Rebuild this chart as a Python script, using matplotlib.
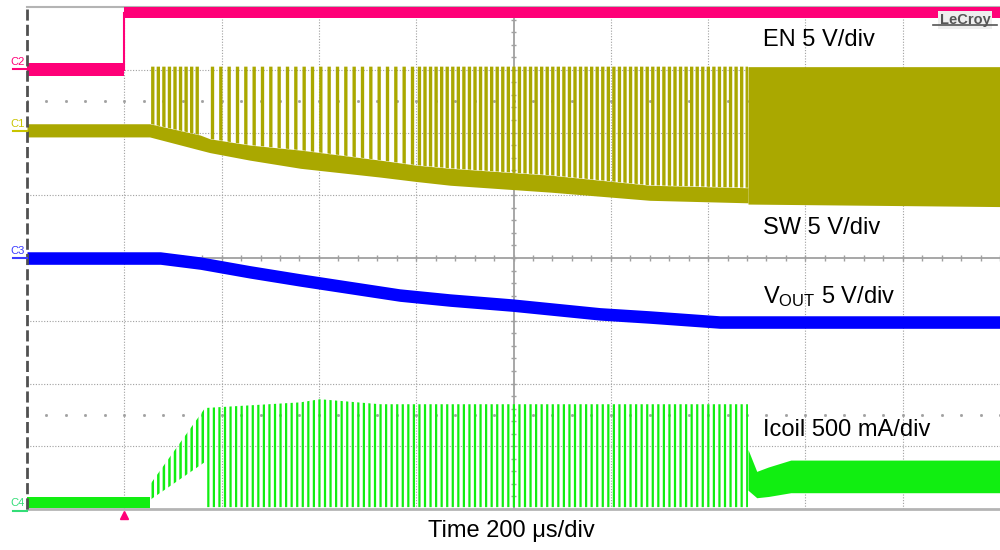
import matplotlib
matplotlib.use("Agg")
import matplotlib.pyplot as plt
import numpy as np

plt.rcParams['font.family'] = ['Liberation Sans', 'DejaVu Sans']
plt.rcParams['mathtext.fontset'] = 'custom'
plt.rcParams['mathtext.rm'] = 'Liberation Sans'
plt.rcParams['mathtext.it'] = 'Liberation Sans'
plt.rcParams['hatch.linewidth'] = 2.0

# ---- data (screen units: x in divisions of 200 us, y in vertical divisions) ----
# EN (C2)
en_time = [0.0, 1.0, 1.0, 10.0]
en_lower = [2.90, 2.90, 3.83, 3.83]
en_upper = [3.11, 3.11, 4.02, 4.02]

# SW (C1): band between pulses, and pulse tops
sw_time = [0.0, 1.26, 1.78, 1.88, 2.29, 2.81, 3.63, 4.00, 4.35, 5.38, 6.40, 7.41]
sw_lower = [1.93, 1.93, 1.72, 1.68, 1.56, 1.43, 1.29, 1.22, 1.16, 1.05, 0.92, 0.88]
sw_upper = [2.14, 2.14, 1.96, 1.90, 1.80, 1.72, 1.56, 1.48, 1.43, 1.32, 1.16, 1.12]
sw_pulse_top = [2.14, 3.05, 3.05, 3.05, 3.05, 3.05, 3.05, 3.05, 3.05, 3.05, 3.05, 3.05]
sw_burst_start = [1.26, 1.88, 4.00]
sw_burst_end = [1.78, 4.00, 7.41]
sw_dense_time = [7.41, 10.0]
sw_dense_lower = [0.86, 0.82]
sw_dense_upper = [3.05, 3.05]

# VOUT (C3)
vout_time = [0.0, 1.37, 1.78, 2.29, 2.81, 3.83, 4.35, 4.99, 5.89, 6.40, 7.12, 10.0]
vout_upper = [0.10, 0.10, 0.02, -0.12, -0.25, -0.49, -0.57, -0.65, -0.79, -0.84, -0.92, -0.92]
vout_lower = [-0.10, -0.10, -0.18, -0.32, -0.45, -0.69, -0.77, -0.85, -0.99, -1.04, -1.12, -1.12]

# Icoil (C4)
il_idle_time = [0.0, 1.26]
il_idle_lower = [-3.99, -3.99]
il_idle_upper = [-3.81, -3.81]
il_ramp_time = [1.26, 1.83]
il_ramp_lower = [-3.86, -3.25]
il_ramp_upper = [-3.62, -2.39]
il_switch_time = [1.83, 2.81, 3.01, 3.63, 7.41]
il_switch_lower = [-3.97, -3.97, -3.97, -3.97, -3.97]
il_switch_upper = [-2.39, -2.30, -2.25, -2.33, -2.33]
il_steady_time = [7.41, 7.50, 7.62, 7.85, 10.0]
il_steady_lower = [-3.70, -3.82, -3.80, -3.74, -3.74]
il_steady_upper = [-3.05, -3.40, -3.33, -3.22, -3.22]

trigger_time = 1.0

labels = ["EN 5 V/div", "SW 5 V/div", r"V$_{\mathrm{OUT}}$ 5 V/div", "Icoil 500 mA/div"]
label_y = [3.47, 0.48, -0.62, -2.74]
channel_names = ["C2", "C1", "C3", "C4"]
channel_level = [3.01, 2.02, 0.0, -4.03]

C_EN = '#ff0078'
C_SW = '#aaa800'
C_VO = '#0000ff'
C_IL = '#11ee11'
label_colors = ['#ff0078', '#c8c400', '#3a3aff', '#33dd77']

fig = plt.figure(figsize=(10, 5.5), dpi=100)
ax = fig.add_axes([0.027, 0.0745, 0.973, 0.9127])
ax.set_xlim(0, 10)
ax.set_ylim(-4, 4)
ax.set_axis_off()

# ---- graticule ----
gcol = '#a0a0a0'
for gx in [1, 2, 3, 4, 6, 7, 8, 9]:
    ax.plot([gx, gx], [-4, 4], color=gcol, lw=0.8, ls=(0, (1, 1.5)), zorder=1)
for gy in [-3, -2, -1, 1, 2, 3]:
    ax.plot([0, 10], [gy, gy], color=gcol, lw=0.8, ls=(0, (1, 1.5)), zorder=1)
ax.plot([5, 5], [-4, 4], color=gcol, lw=1.3, zorder=1)
ax.plot([0, 10], [0, 0], color=gcol, lw=1.3, zorder=1)
tx = np.arange(0, 10.01, 0.2)
ax.vlines(tx, -0.05, 0.05, color=gcol, lw=1.0, zorder=1)
ty = np.arange(-4, 4.01, 0.2)
ax.hlines(ty, 4.97, 5.03, color=gcol, lw=1.0, zorder=1)
for ry in [2.5, -2.5]:
    ax.plot(tx, np.full_like(tx, ry), ls='none', marker='s', ms=1.0, color=gcol, zorder=1)
ax.plot([0, 0], [-4, 4], color='#505050', lw=2.0, ls=(0, (4, 1.5)), zorder=6, clip_on=False)
ax.plot([0, 10], [-4, -4], color='#b4b4b4', lw=2.0, zorder=1, clip_on=False)
ax.plot([0, 10], [4, 4], color='#b4b4b4', lw=1.5, zorder=1, clip_on=False)


def hatched(x, lo, hi, color, hatch, hlw, where=None, z=3):
    c = ax.fill_between(x, lo, hi, where=where, facecolor='none',
                        edgecolor=color, linewidth=0, hatch=hatch, zorder=z)
    if hasattr(c, 'set_hatch_linewidth'):
        c.set_hatch_linewidth(hlw)
    return c

# ---- LeCroy logo ----
ax.text(9.64, 3.80, "LeCroy", color='#555555', fontsize=10.5, fontweight='bold',
        ha='center', va='center', zorder=5, clip_on=False,
        bbox=dict(facecolor='#eeeeee', edgecolor='none', pad=1.5))
ax.plot([9.31, 9.97], [3.71, 3.71], color='#555555', lw=1.2, zorder=5)

# ---- EN ----
ax.fill_between(en_time, en_lower, en_upper, color=C_EN, lw=0, zorder=4)
ax.plot([trigger_time, trigger_time], [3.0, 3.9], color=C_EN, lw=1.5, zorder=4)

# ---- SW ----
ax.fill_between(sw_time, sw_lower, sw_upper, color=C_SW, lw=0, zorder=3)
t = np.array(sw_time)
for s, e, h in zip(sw_burst_start, sw_burst_end, ['|||', '||', '|||']):
    hatched(sw_time, sw_upper, sw_pulse_top, C_SW, h, 2.4, where=(t >= s) & (t <= e))
ax.fill_between(sw_dense_time, sw_dense_lower, sw_dense_upper, color=C_SW, lw=0, zorder=3)

# ---- VOUT ----
ax.fill_between(vout_time, vout_lower, vout_upper, color=C_VO, lw=0, zorder=3)

# ---- Icoil ----
ax.fill_between(il_idle_time, il_idle_lower, il_idle_upper, color=C_IL, lw=0, zorder=3)
hatched(il_ramp_time, il_ramp_lower, il_ramp_upper, C_IL, '|||', 1.8)
hatched(il_switch_time, il_switch_lower, il_switch_upper, C_IL, '|||', 1.6)
ax.fill_between(il_steady_time, il_steady_lower, il_steady_upper, color=C_IL, lw=0, zorder=3)

# ---- channel markers ----
for name, lvl, col in zip(channel_names, channel_level, label_colors):
    ax.text(-0.175, lvl + 0.04, name, color=col, fontsize=8, ha='left', va='bottom',
            clip_on=False, zorder=7)
    ax.plot([-0.14, 0.0], [lvl, lvl], color=col, lw=1.5, clip_on=False, zorder=7)

# trigger marker
ax.plot([trigger_time], [-4.09], marker='^', ms=6, color=C_EN, ls='none',
        clip_on=False, zorder=7)

# ---- labels ----
for lab, ly in zip(labels, label_y):
    ax.text(7.56, ly, lab, fontsize=17, color='black', ha='left', va='center', zorder=8)

fig.text(0.511, 0.0345, "Time 200 \u03bcs/div", fontsize=17, ha='center', va='center')

fig.savefig("out.png", dpi=100, facecolor='white')
